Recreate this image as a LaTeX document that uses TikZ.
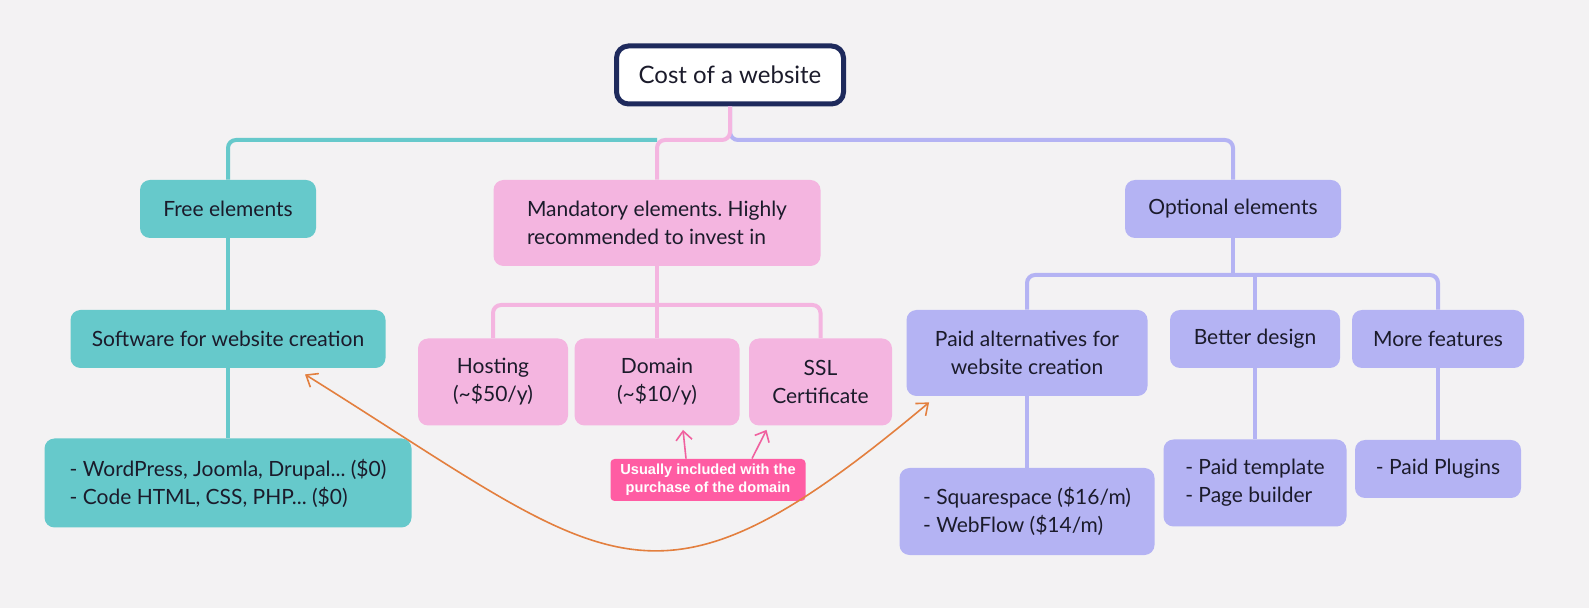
\documentclass[tikz,border=0pt]{standalone}
\usepackage{fontspec}
\setmainfont{Lato}
\newfontfamily\notefont{Liberation Sans}
\usetikzlibrary{arrows.meta}
\frenchspacing
\definecolor{bg}{HTML}{F3F2F3}
\definecolor{freecol}{HTML}{66C9CB}
\definecolor{mustcol}{HTML}{F4B5E0}
\definecolor{optcol}{HTML}{B4B3F3}
\definecolor{navy}{HTML}{1E2A5C}
\definecolor{ink}{HTML}{1B1B2B}
\definecolor{notecol}{HTML}{FF5CA3}
\definecolor{hintcol}{HTML}{F0619F}
\definecolor{linkcol}{HTML}{E37F3E}
\tikzset{every picture/.style = {x=0.5pt, y=-0.5pt}}
\tikzset{box/.style = {rounded corners=5pt, align=center, inner sep=0pt, text=ink, font=\fontsize{10.5}{14}\selectfont}}
\tikzset{root/.style = {box, draw=navy, line width=2.5pt, fill=white, rounded corners=6pt, font=\fontsize{12}{14}\selectfont}}
\tikzset{free/.style = {box, fill=freecol}}
\tikzset{must/.style = {box, fill=mustcol}}
\tikzset{opt/.style = {box, fill=optcol}}
\tikzset{list/.style = {align=left}}
\tikzset{note/.style = {fill=notecol, text=white, rounded corners=2pt, align=center, inner sep=0pt, font=\notefont\bfseries\fontsize{7.3}{9}\selectfont}}
\tikzset{wire/.style = {line width=2pt, rounded corners=4pt}}
\tikzset{hint/.style = {hintcol, line width=0.8pt, -{Straight Barb[length=4.5pt, width=8pt]}}}
\tikzset{link/.style = {linkcol, line width=0.8pt, {Straight Barb[length=5pt, width=8pt]}-{Straight Barb[length=5pt, width=8pt]}}}

\begin{document}
\begin{tikzpicture}
  \useasboundingbox (0, 0) rectangle (1589, 608);
  \fill[bg] (0, 0) rectangle (1589, 608);

  % top level
  \node[root, minimum width=113.5pt, minimum height=29pt] (cost) at (730, 75) {Cost of a website};
  \node[free, minimum width=88pt, minimum height=29pt] (fre) at (228, 209) {Free elements};
  \node[must, list, minimum width=163.5pt, minimum height=43pt] (must) at (657, 223) {Mandatory elements. Highly\\recommended to invest in};
  \node[opt, minimum width=108pt, minimum height=29pt] (opt) at (1233, 209) {Optional elements};

  % free branch
  \node[free, minimum width=157.5pt, minimum height=29pt] (soft) at (228, 339) {Software for website creation};
  \node[free, list, minimum width=183.5pt, minimum height=44.5pt] (tools) at (228, 483) {- WordPress, Joomla, Drupal... (\$0)\\- Code HTML, CSS, PHP... (\$0)};

  % mandatory branch
  \node[must, minimum width=75pt, minimum height=43.5pt] (host) at (493, 382) {Hosting\\(\textasciitilde\$50/y)};
  \node[must, minimum width=82.5pt, minimum height=43.5pt] (dom) at (657, 382) {Domain\\(\textasciitilde\$10/y)};
  \node[must, minimum width=71.5pt, minimum height=43.5pt] (ssl) at (820.5, 382) {SSL\\Certificate};
  \node[note, minimum width=97.5pt, minimum height=21pt] (note) at (708, 480) {Usually included with the\\purchase of the domain};

  % optional branch
  \node[opt, minimum width=120.5pt, minimum height=43pt] (paid) at (1027, 353) {Paid alternatives for\\website creation};
  \node[opt, minimum width=85pt, minimum height=29pt] (design) at (1255, 339) {Better design};
  \node[opt, minimum width=86pt, minimum height=29pt] (feat) at (1438, 339) {More features};
  \node[opt, list, minimum width=127.5pt, minimum height=43.5pt] (alts) at (1027, 511.5) {- Squarespace (\$16/m)\\- WebFlow (\$14/m)};
  \node[opt, list, minimum width=91.5pt, minimum height=43.5pt] (tmpl) at (1255, 483) {- Paid template\\- Page builder};
  \node[opt, minimum width=83pt, minimum height=29pt] (plug) at (1438, 469) {- Paid Plugins};

  \coordinate (top) at (730, 140);
  \coordinate (mid) at (657, 305);
  \coordinate (hub) at (1233, 275);

  % wires
  \draw[wire, freecol] (must.north |- top) -| (fre.north);
  \draw[wire, optcol] (cost.south) -- (top) -| (opt.north);
  \draw[wire, mustcol] (cost.south) -- (top) -| (must.north);
  \draw[wire, freecol] (fre.south) -- (soft.north);
  \draw[wire, freecol] (soft.south) -- (tools.north);
  \draw[wire, mustcol] (must.south) -- (dom.north);
  \draw[wire, mustcol] (host.north) |- (mid) -| (ssl.north);
  \draw[wire, optcol] (opt.south) -- (hub);
  \draw[wire, optcol] (paid.north) |- (hub) -| (feat.north);
  \draw[wire, optcol] (design.north |- hub) -- (design.north);
  \draw[wire, optcol] (paid.south) -- (alts.north);
  \draw[wire, optcol] (design.south) -- (tmpl.north);
  \draw[wire, optcol] (feat.south) -- (plug.north);

  % arrows
  \draw[hint] ([shift={(-22, 0)}]note.north) -- ([shift={(26, 4)}]dom.south);
  \draw[hint] ([shift={(44, 0)}]note.north) -- ([shift={(-54, 4)}]ssl.south);
  \draw[link] ([shift={(77, 6)}]soft.south) .. controls +(309, 193) and +(-279, 234) .. ([shift={(23, 6)}]paid.south west);
\end{tikzpicture}
\end{document}
